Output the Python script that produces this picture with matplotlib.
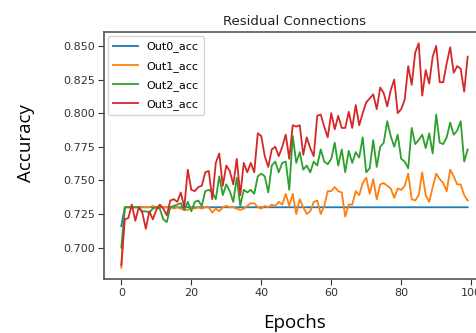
import matplotlib
matplotlib.use("Agg")
import matplotlib.pyplot as plt

# accuracy per epoch
epochs = list(range(100))

out0_acc = [
    0.716, 0.730, 0.730, 0.730, 0.730, 0.730, 0.730, 0.730, 0.730, 0.730,
    0.730, 0.730, 0.730, 0.730, 0.730, 0.730, 0.730, 0.730, 0.730, 0.730,
    0.730, 0.730, 0.730, 0.730, 0.730, 0.730, 0.730, 0.730, 0.730, 0.730,
    0.730, 0.730, 0.730, 0.730, 0.730, 0.730, 0.730, 0.730, 0.730, 0.730,
    0.730, 0.730, 0.730, 0.730, 0.730, 0.730, 0.730, 0.730, 0.730, 0.730,
    0.730, 0.730, 0.730, 0.730, 0.730, 0.730, 0.730, 0.730, 0.730, 0.730,
    0.730, 0.730, 0.730, 0.730, 0.730, 0.730, 0.730, 0.730, 0.730, 0.730,
    0.730, 0.730, 0.730, 0.730, 0.730, 0.730, 0.730, 0.730, 0.730, 0.730,
    0.730, 0.730, 0.730, 0.730, 0.730, 0.730, 0.730, 0.730, 0.730, 0.730,
    0.730, 0.730, 0.730, 0.730, 0.730, 0.730, 0.730, 0.730, 0.730, 0.730,
]

out1_acc = [
    0.685, 0.730, 0.730, 0.730, 0.730, 0.730, 0.730, 0.730, 0.730, 0.731,
    0.730, 0.731, 0.730, 0.730, 0.730, 0.729, 0.730, 0.729, 0.728, 0.728,
    0.730, 0.729, 0.730, 0.729, 0.730, 0.730, 0.726, 0.729, 0.727, 0.730,
    0.731, 0.730, 0.730, 0.729, 0.728, 0.729, 0.731, 0.733, 0.733, 0.730,
    0.729, 0.731, 0.730, 0.732, 0.731, 0.734, 0.732, 0.740, 0.731, 0.740,
    0.725, 0.736, 0.730, 0.725, 0.727, 0.734, 0.735, 0.725, 0.731, 0.742,
    0.742, 0.745, 0.742, 0.741, 0.723, 0.732, 0.732, 0.742, 0.739, 0.748,
    0.752, 0.740, 0.751, 0.736, 0.747, 0.748, 0.746, 0.744, 0.737, 0.744,
    0.743, 0.746, 0.755, 0.736, 0.735, 0.739, 0.756, 0.739, 0.734, 0.745,
    0.755, 0.751, 0.748, 0.742, 0.758, 0.753, 0.747, 0.747, 0.739, 0.735,
]

out2_acc = [
    0.700, 0.730, 0.730, 0.730, 0.730, 0.730, 0.727, 0.727, 0.726, 0.729,
    0.730, 0.729, 0.721, 0.719, 0.730, 0.731, 0.732, 0.733, 0.728, 0.734,
    0.727, 0.734, 0.735, 0.731, 0.742, 0.743, 0.741, 0.736, 0.753, 0.739,
    0.747, 0.742, 0.734, 0.752, 0.731, 0.743, 0.741, 0.743, 0.740, 0.753,
    0.755, 0.753, 0.741, 0.761, 0.764, 0.756, 0.763, 0.764, 0.743, 0.783,
    0.763, 0.771, 0.758, 0.761, 0.756, 0.764, 0.761, 0.773, 0.764, 0.762,
    0.766, 0.778, 0.761, 0.773, 0.756, 0.772, 0.763, 0.771, 0.767, 0.782,
    0.756, 0.759, 0.780, 0.760, 0.775, 0.778, 0.794, 0.783, 0.775, 0.784,
    0.766, 0.764, 0.759, 0.789, 0.777, 0.780, 0.784, 0.774, 0.785, 0.770,
    0.799, 0.778, 0.777, 0.782, 0.793, 0.784, 0.787, 0.794, 0.764, 0.773,
]

out3_acc = [
    0.687, 0.721, 0.722, 0.732, 0.720, 0.730, 0.726, 0.714, 0.727, 0.721,
    0.728, 0.732, 0.729, 0.724, 0.735, 0.736, 0.734, 0.741, 0.730, 0.758,
    0.743, 0.742, 0.745, 0.746, 0.756, 0.757, 0.736, 0.763, 0.770, 0.746,
    0.761, 0.757, 0.747, 0.766, 0.739, 0.763, 0.756, 0.763, 0.756, 0.785,
    0.783, 0.768, 0.760, 0.773, 0.775, 0.768, 0.775, 0.784, 0.766, 0.791,
    0.790, 0.791, 0.769, 0.782, 0.774, 0.768, 0.798, 0.799, 0.790, 0.782,
    0.800, 0.788, 0.798, 0.789, 0.789, 0.801, 0.789, 0.806, 0.791, 0.800,
    0.808, 0.811, 0.814, 0.803, 0.819, 0.815, 0.805, 0.817, 0.825, 0.800,
    0.803, 0.810, 0.835, 0.821, 0.845, 0.852, 0.813, 0.832, 0.822, 0.842,
    0.850, 0.823, 0.823, 0.837, 0.849, 0.830, 0.835, 0.833, 0.816, 0.842,
]

series = [out0_acc, out1_acc, out2_acc, out3_acc]
labels = ["Out0_acc", "Out1_acc", "Out2_acc", "Out3_acc"]

fig = plt.figure(figsize=(4.76, 3.33), dpi=100)
# the screenshot cuts the right edge of the axes off, so the axes run past the figure
ax = fig.add_axes([104 / 476, 54 / 333, 381 / 476, 247 / 333])

for vals, lab in zip(series, labels):
    ax.plot(epochs, vals, label=lab, linewidth=1.3)

ax.set_title("Residual Connections", fontsize=9.5, pad=5, color="#222222")
ax.tick_params(labelsize=8, length=4, width=0.8, pad=2.5, colors="#333333")
for s in ax.spines.values():
    s.set_linewidth(1.2)
    s.set_color("#555555")

ax.legend(loc="upper left", fontsize=8, handlelength=2.2, borderpad=0.45,
          labelspacing=0.75, borderaxespad=0.4)

fig.text(0.055, 0.57, "Accuracy", rotation=90, ha="center", va="center",
         fontsize=13.5, family="Open Sans")
fig.text(0.618, 0.03, "Epochs", ha="center", va="center",
         fontsize=13.5, family="Open Sans")

fig.savefig("out.png", dpi=100)
